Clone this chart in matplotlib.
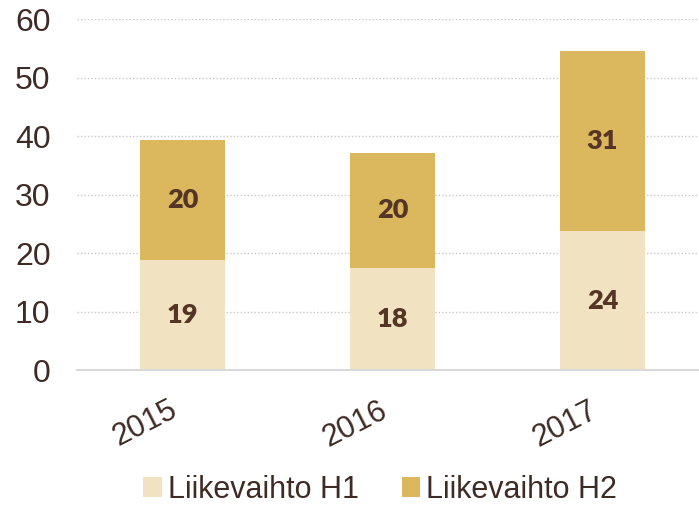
import matplotlib
matplotlib.use("Agg")
from matplotlib import pyplot as plt
import numpy as np

years = ["2015", "2016", "2017"]
h1 = [18.9, 17.5, 23.8]
h2 = [20.4, 19.6, 30.7]
series_names = ["Liikevaihto H1", "Liikevaihto H2"]
yticks = [0, 10, 20, 30, 40, 50, 60]

c_h1 = "#f1e3c1"
c_h2 = "#dbb85e"
txt = "#3f2b25"
lbl = "#553626"

plt.rcParams["font.family"] = ["Liberation Sans", "DejaVu Sans"]

fig = plt.figure(figsize=(6.99, 5.05), dpi=100)
ax = fig.add_axes([0.11, 0.267, 0.89, 0.695])

x = np.arange(len(years))
w = 0.405
b1 = ax.bar(x, h1, w, color=c_h1, label=series_names[0], zorder=2)
b2 = ax.bar(x, h2, w, bottom=h1, color=c_h2, label=series_names[1], zorder=2)

for bars, vals, base in [(b1, h1, [0] * 3), (b2, h2, h1)]:
    for rect, v, b in zip(bars, vals, base):
        ax.text(rect.get_x() + rect.get_width() / 2, b + v / 2, f"{v:.0f}",
                ha="center", va="center", fontsize=19.5, fontweight="heavy",
                color=lbl, family=["Lato", "DejaVu Sans"])

ax.set_ylim(0, 60)
ax.set_xlim(-0.502, 2.46)
ax.set_yticks(yticks)
ax.yaxis.grid(True, linestyle=(0, (1, 1.5)), color="#c8c8c8", linewidth=1, zorder=0)
ax.set_axisbelow(True)
for s in ["top", "right", "left"]:
    ax.spines[s].set_visible(False)
ax.spines["bottom"].set_color("#d9d9d9")
ax.spines["bottom"].set_linewidth(1.5)

ax.tick_params(axis="y", length=0, labelsize=23, labelcolor=txt, pad=19)
ax.tick_params(axis="x", length=0, labelsize=22, labelcolor=txt, pad=18)
ax.set_xticks(x)
ax.set_xticklabels(years, rotation=27, ha="right")

fig.legend(handles=[b1, b2], labels=series_names, loc="center",
           bbox_to_anchor=(0.544, 0.03), ncol=2, frameon=False,
           fontsize=22, labelcolor=txt, handlelength=0.6, handleheight=0.6,
           handletextpad=0.2, columnspacing=1.4)

fig.savefig("out.png", dpi=100)
